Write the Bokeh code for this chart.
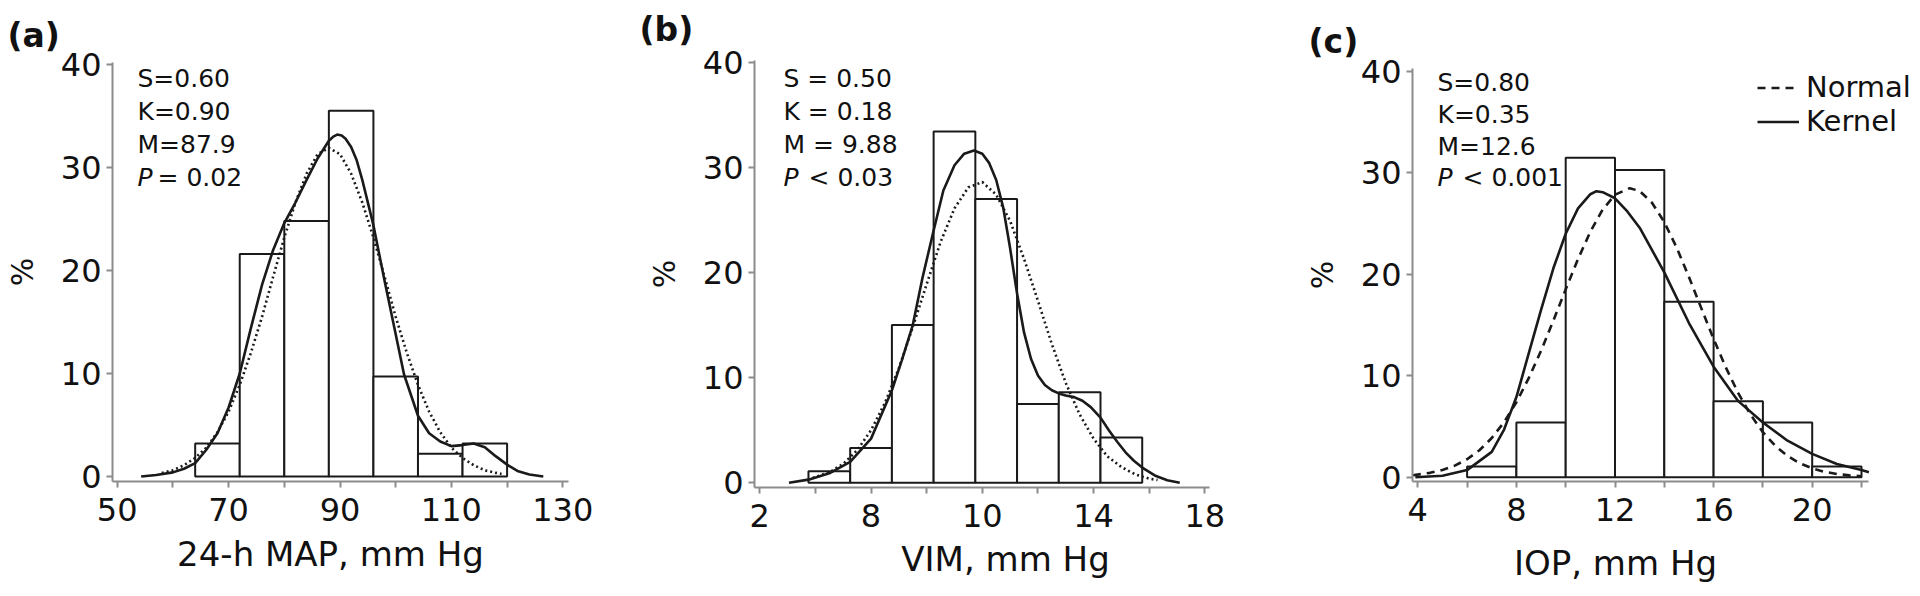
from bokeh.plotting import figure
from bokeh.models import Range1d, FixedTicker, Label, Legend, LegendItem, LinearAxis
from bokeh.layouts import row
from bokeh.embed import file_html
from bokeh.resources import INLINE

# ---------------- data ----------------
y_ticks = [0, 10, 20, 30, 40]

# panel (a) 24-h MAP
a_edges = [64, 72, 80, 88, 96, 104, 112, 120]
a_pct = [3.2, 21.6, 24.8, 35.5, 9.7, 2.2, 3.2]
a_norm_x = [58, 60, 62, 64, 66, 68, 70, 72, 74, 76, 78, 80, 82, 84, 86, 88,
            90, 92, 94, 96, 98, 100, 102, 104, 106, 108, 110, 112, 114, 116, 118, 119]
a_norm_y = [0.35, 0.6, 1.1, 1.8, 2.8, 4.3, 6.3, 8.9, 12.0, 15.5, 19.4, 23.2, 26.6, 29.4, 31.3, 31.9,
            31.3, 29.4, 26.6, 23.2, 19.4, 15.5, 12.0, 8.9, 6.3, 4.3, 2.8, 1.8, 1.1, 0.6, 0.35, 0.25]
a_kern_x = [54.3, 57, 60, 62, 64, 66, 68, 70, 72, 74, 76, 78, 80, 82, 84, 86, 88, 88.8, 89.5, 90.3, 91, 92, 93,
            94, 96, 98, 100, 101.5, 104, 106, 108, 110, 112, 114, 116, 118, 120, 122, 124, 126.5]
a_kern_y = [0.0, 0.15, 0.4, 0.75, 1.3, 2.6, 4.2, 6.7, 10.0, 14.4, 18.6, 22.0, 24.6, 26.6, 28.8, 30.9, 32.6, 33.0, 33.2, 33.1, 32.8, 32.0, 30.7,
            28.8, 24.4, 19.0, 13.8, 9.9, 5.9, 4.2, 3.4, 2.95, 3.05, 3.2, 2.85, 1.95, 1.15, 0.5, 0.2, 0.0]
a_ticks = [50, 60, 70, 80, 90, 100, 110, 120, 130]
a_tick_labels = ["50", "", "70", "", "90", "", "110", "", "130"]
a_stats = ["S=0.60", "K=0.90", "M=87.9"]
a_p = "= 0.02"
a_title = "24-h MAP, mm Hg"

# panel (b) VIM
b_edges = [3.75, 5.25, 6.75, 8.25, 9.75, 11.25, 12.75, 14.25, 15.75]
b_pct = [1.1, 3.3, 15.0, 33.4, 27.0, 7.5, 8.6, 4.3]
b_norm_x = [3.9, 4.5, 5, 5.5, 6, 6.5, 7, 7.5, 8, 8.5, 9, 9.5, 10, 10.5, 11, 11.5, 12,
            12.5, 13, 13.5, 14, 14.5, 15, 15.5, 16, 16.3]
b_norm_y = [0.46, 1.0, 1.8, 3.1, 5.0, 7.6, 10.9, 14.8, 18.9, 22.9, 26.1, 28.1, 28.6, 27.4, 24.9, 21.3, 17.3,
            13.2, 9.5, 6.5, 4.2, 2.5, 1.5, 0.8, 0.4, 0.26]
b_kern_x = [3.05, 3.75, 4.5, 5.25, 6, 6.75, 7.1, 7.5, 7.85, 8.25, 8.6, 9, 9.35, 9.7, 10.0, 10.25, 10.5, 10.75,
            11.0, 11.25, 11.5, 11.75, 12.0, 12.25, 12.5, 12.75, 13.0, 13.3, 13.6, 13.9, 14.25, 14.55, 14.85,
            15.15, 15.45, 15.75, 16.2, 16.65, 17.1]
b_kern_y = [0.0, 0.3, 0.9, 2.0, 4.2, 8.8, 11.6, 15.0, 19.5, 24.0, 27.8, 30.2, 31.3, 31.6, 31.3, 30.4, 28.8, 26.2,
            22.3, 18.0, 14.3, 11.8, 10.2, 9.3, 8.8, 8.5, 8.3, 8.15, 7.8, 7.2, 6.2, 5.0, 3.9,
            2.9, 2.1, 1.45, 0.7, 0.25, 0.0]
b_ticks = [2, 4, 6, 8, 10, 12, 14, 16, 18]
b_tick_labels = ["2", "", "8", "", "10", "", "14", "", "18"]
b_stats = ["S = 0.50", "K = 0.18", "M = 9.88"]
b_p = "< 0.03"
b_title = "VIM, mm Hg"

# panel (c) IOP
c_edges = [6, 8, 10, 12, 14, 16, 18, 20, 22]
c_pct = [1.05, 5.4, 31.5, 30.3, 17.3, 7.5, 5.4, 1.05]
c_norm_x = [3.8, 4.5, 5, 5.5, 6, 6.5, 7, 7.5, 8, 8.5, 9, 9.5, 10, 10.5, 11, 11.5, 12, 12.6, 13,
            13.5, 14, 14.5, 15, 15.5, 16, 16.5, 17, 17.5, 18, 18.5, 19, 19.5, 20, 20.5, 21, 21.5, 22]
c_norm_y = [0.2, 0.43, 0.72, 1.14, 1.77, 2.66, 3.86, 5.43, 7.39, 9.76, 12.47, 15.44, 18.52, 21.51, 24.2, 26.38, 27.85, 28.5, 28.21,
            27.06, 25.15, 22.64, 19.74, 16.67, 13.63, 10.8, 8.29, 6.16, 4.44, 3.1, 2.09, 1.37, 0.87, 0.53, 0.32, 0.18, 0.1]
c_kern_x = [3.9, 5, 6, 7, 7.5, 8, 8.5, 9, 9.5, 10, 10.5, 11, 11.25, 11.5, 12, 12.5, 13, 14, 15,
            16, 17, 18, 19, 20, 21, 22, 22.3]
c_kern_y = [0.0, 0.15, 0.7, 2.5, 4.7, 7.9, 12.2, 16.5, 20.6, 24.0, 26.5, 27.9, 28.2, 28.1, 27.5, 26.2, 24.6, 20.2, 15.2,
            10.9, 7.5, 5.4, 3.6, 2.3, 1.3, 0.7, 0.5]
c_ticks = [4, 6, 8, 10, 12, 14, 16, 18, 20, 22]
c_tick_labels = ["4", "", "8", "", "12", "", "16", "", "20", ""]
c_stats = ["S=0.80", "K=0.35", "M=12.6"]
c_p = "< 0.001"
c_title = "IOP, mm Hg"

legend_labels = ["Normal", "Kernel"]

# ---------------- styling / layout ----------------
FONT = "DejaVu Sans"
AX = "#8c8c8c"
INK = "#1a1a1a"
TXT = "#111111"
W = 640
H = 596           # figures fill the page from y = 0 to 596
PAGE_BOTTOM = 596


def panel(x0, xanchor, yanchor, axis_px, ticks, tick_labels, edges, pct,
          nx, ny, kx, ky, dash, letter, letter_pos, stats, stat_pos, pword, p_x2,
          title, title_pos, legend=None):
    v0, px0, v1, px1 = xanchor
    sx = (px1 - px0) / (v1 - v0)
    xs = v0 - (px0 - x0) / sx
    xe = xs + W / sx
    py0, py40 = yanchor
    sy = (py0 - py40) / 40.0
    ys = -(PAGE_BOTTOM - py0) / sy
    ye = ys + H / sy
    ax_left, ax_right, ax_bottom, ax_top = axis_px
    xa_loc = xs + (ax_left - x0) / sx
    xa_end = xs + (ax_right - x0) / sx
    ya_loc = (py0 - ax_bottom) / sy
    ya_end = (py0 - ax_top) / sy

    p = figure(width=W, height=H, output_backend="svg", toolbar_location=None,
               x_range=Range1d(xs, xe), y_range=Range1d(ys, ye),
               x_axis_type=None, y_axis_type=None,
               min_border_left=0, min_border_right=0, min_border_top=0, min_border_bottom=0)
    p.outline_line_color = None
    p.background_fill_color = "white"
    p.border_fill_color = "white"

    xaxis = LinearAxis(fixed_location=ya_loc, bounds=(xa_loc, xa_end),
                       ticker=FixedTicker(ticks=ticks),
                       major_label_overrides={t: s for t, s in zip(ticks, tick_labels)})
    yaxis = LinearAxis(fixed_location=xa_loc, bounds=(ya_loc, ya_end),
                       ticker=FixedTicker(ticks=y_ticks), axis_label="%")
    for ax in (xaxis, yaxis):
        ax.axis_line_color = AX
        ax.axis_line_width = 2
        ax.major_tick_line_color = AX
        ax.major_tick_line_width = 2
        ax.major_tick_out = 6
        ax.major_tick_in = 0
        ax.minor_tick_line_color = None
        ax.major_label_text_font = FONT
        ax.major_label_text_font_size = "32px"
        ax.major_label_text_color = TXT
    xaxis.major_label_standoff = 10
    yaxis.major_label_standoff = 5
    yaxis.axis_label_text_font = FONT
    yaxis.axis_label_text_font_size = "30px"
    yaxis.axis_label_text_font_style = "normal"
    yaxis.axis_label_text_color = TXT
    yaxis.axis_label_standoff = 18
    p.add_layout(xaxis, "below")
    p.add_layout(yaxis, "left")

    p.quad(left=edges[:-1], right=edges[1:], bottom=[0] * len(pct), top=pct,
           fill_color="white", line_color=INK, line_width=2)
    rn = p.line(nx, ny, line_color=INK, line_width=2.6, line_dash=dash)
    rk = p.line(kx, ky, line_color=INK, line_width=2.6)

    def lab(text, px, py, size, align="left", style="normal"):
        p.add_layout(Label(x=px - x0, y=PAGE_BOTTOM - py, x_units="screen", y_units="screen",
                           text=text, text_font=FONT, text_font_size=size, text_font_style=style,
                           text_color=TXT, text_align=align, text_baseline="middle"))

    lab(letter, letter_pos[0], letter_pos[1], "33px", style="bold")
    stx, sty = stat_pos
    for s, yy in zip(stats, sty[:3]):
        lab(s, stx, yy, "25px")
    lab("P", stx, sty[3], "25px", style="italic")
    lab(pword, p_x2, sty[3], "25px")
    lab(title, title_pos[0], title_pos[1], "34px", align="center")

    if legend is not None:
        lg = Legend(items=[LegendItem(label=legend_labels[0], renderers=[rn]),
                           LegendItem(label=legend_labels[1], renderers=[rk])],
                    location=(legend[0] - x0, PAGE_BOTTOM - legend[1]), orientation="vertical",
                    glyph_width=42, glyph_height=33, label_height=33, label_standoff=7,
                    spacing=0, padding=0, margin=0, border_line_color=None,
                    background_fill_alpha=0, label_text_font=FONT, label_text_font_size="29px",
                    label_text_color=TXT)
        p.add_layout(lg)
    return p


pa = panel(0, (50, 116.7, 130, 562.3), (476, 64), (112, 568, 481, 62),
           a_ticks, a_tick_labels, a_edges, a_pct, a_norm_x, a_norm_y, a_kern_x, a_kern_y, "2 3",
           "(a)", (7, 35), a_stats, (137, [78, 111, 144, 177]), a_p, 157,
           a_title, (330, 553))
pb = panel(640, (2, 759.3, 18, 1204.3), (482.3, 61.7), (754, 1209, 487, 60),
           b_ticks, b_tick_labels, b_edges, b_pct, b_norm_x, b_norm_y, b_kern_x, b_kern_y, "2 3",
           "(b)", (639, 29), b_stats, (783, [77.5, 110.5, 143.5, 176.5]), b_p, 808,
           b_title, (1005, 558))
pc = panel(1280, (4, 1417.3, 22, 1861), (476.7, 71), (1412, 1868, 481, 68),
           c_ticks, c_tick_labels, c_edges, c_pct, c_norm_x, c_norm_y, c_kern_x, c_kern_y, "8 6",
           "(c)", (1308, 41), c_stats, (1437, [81.5, 113.5, 145.5, 177]), c_p, 1462,
           c_title, (1615, 562), legend=(1757, 138))

layout = row(pa, pb, pc, spacing=0)
open("out.html", "w").write(file_html(layout, INLINE))
